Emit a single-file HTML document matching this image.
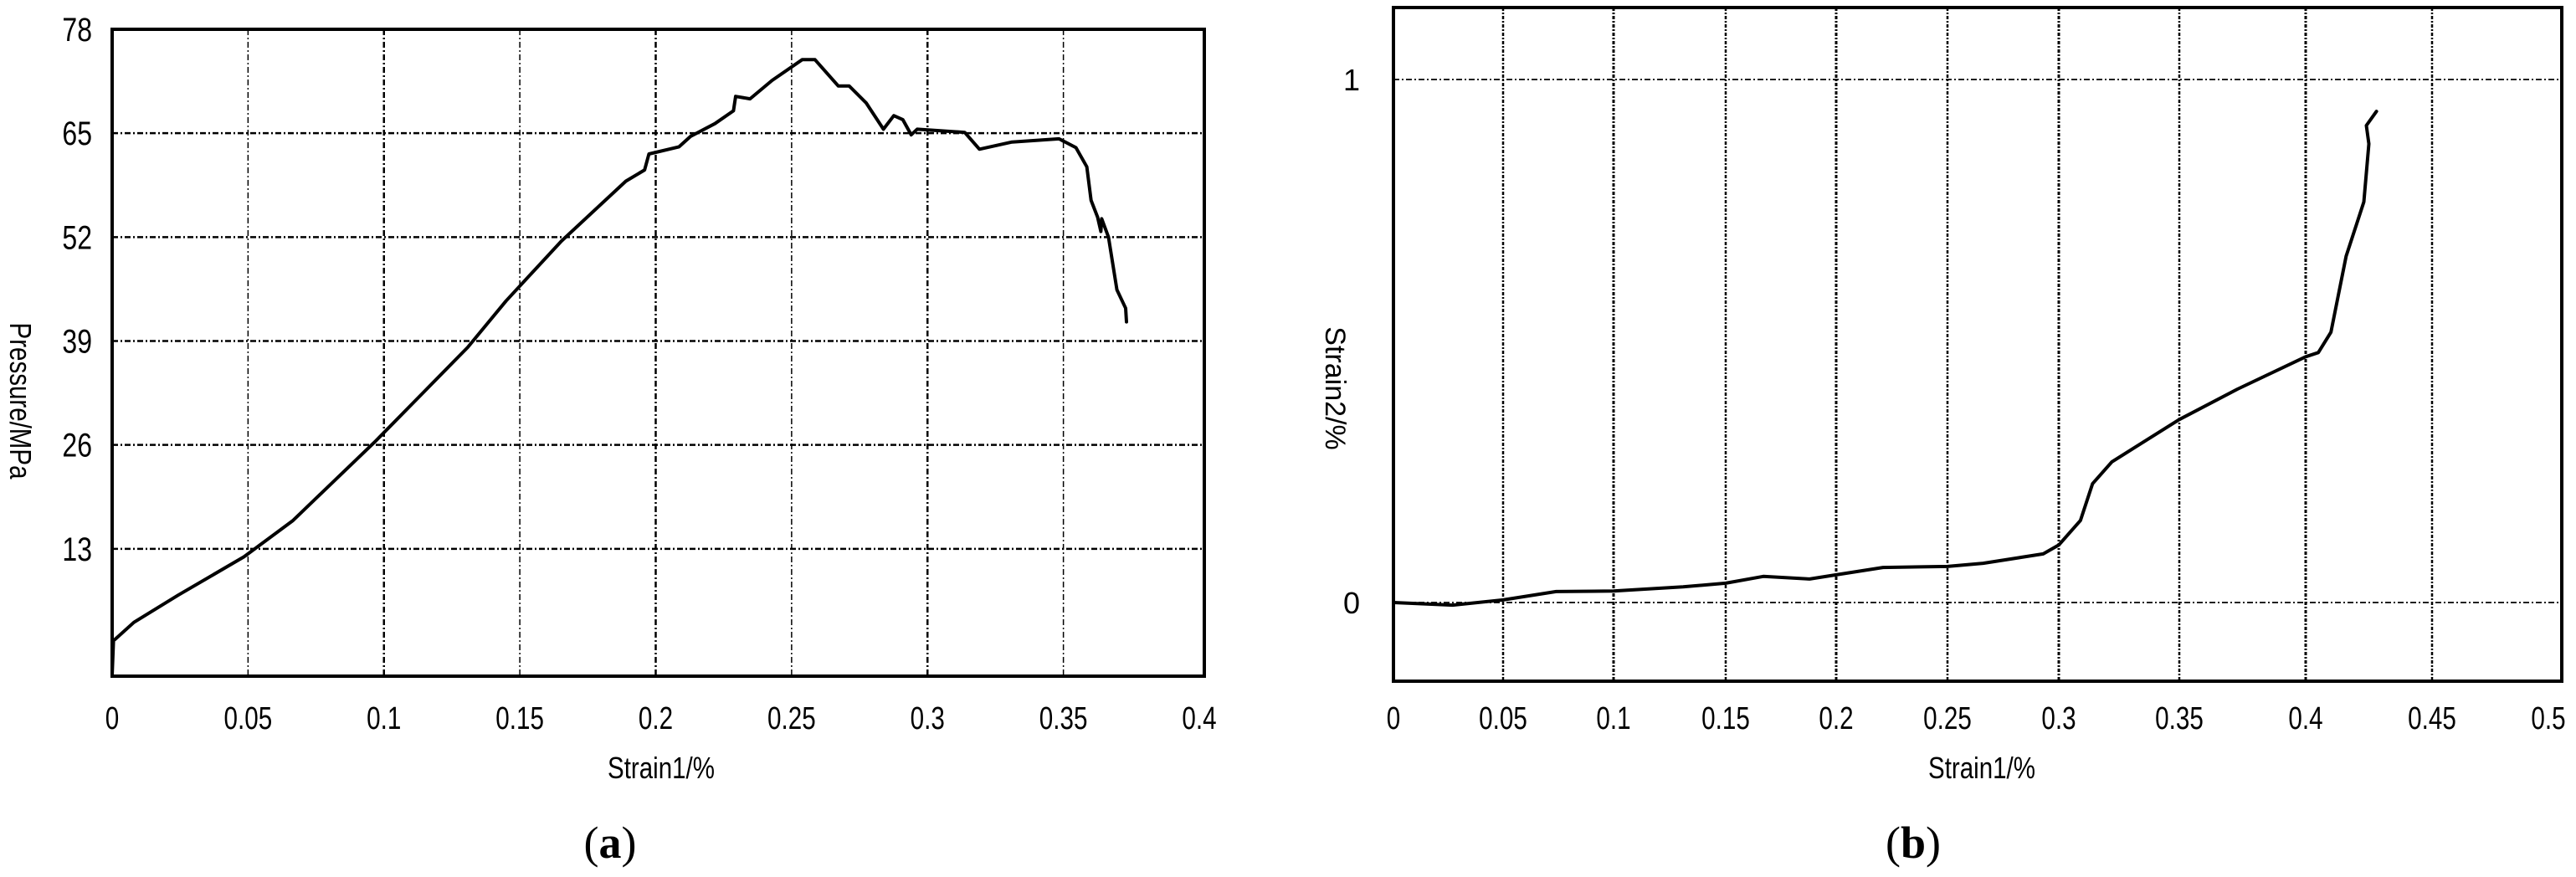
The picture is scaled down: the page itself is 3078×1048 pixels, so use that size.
<!DOCTYPE html>
<html><head><meta charset="utf-8"><style>
html,body{margin:0;padding:0;background:#fff;}
svg{display:block;}
</style></head><body>
<svg id="fig" width="3078" height="1048" viewBox="0 0 3078 1048" xmlns="http://www.w3.org/2000/svg" font-family="Liberation Sans, Arial, sans-serif">
<rect x="0" y="0" width="3078" height="1048" fill="#fff"/>
<g id="pa"></g>
<g id="pb"></g>
<text x="729" y="1025" font-family="Liberation Serif, serif" font-size="54" text-anchor="middle">(<tspan font-weight="bold">a</tspan>)</text>
<text x="2286" y="1025" font-family="Liberation Serif, serif" font-size="54" text-anchor="middle">(<tspan font-weight="bold">b</tspan>)</text>
</svg>
<script>
// Panel (a) data
const aStrain = [0,0.0005,0.008,0.0243,0.0485,0.0664,0.097,0.1308,0.1449,0.1653,0.189,0.1959,0.1975,0.2086,0.2128,0.2218,0.2286,0.2294,0.2347,0.2428,0.2539,0.2586,0.2672,0.2712,0.2774,0.2838,0.2876,0.2909,0.294,0.2962,0.3137,0.3191,0.3311,0.3484,0.3546,0.3586,0.3602,0.3626,0.3638,0.3641,0.3666,0.3697,0.3729,0.3732];
const aPressure = [-2.8,1.5,3.8,7.2,12.0,16.5,26.5,38.2,44,51.5,59,60.4,62.4,63.3,64.6,66.2,67.8,69.6,69.3,71.6,74.2,74.2,70.9,70.9,68.8,65.5,67.2,66.7,64.8,65.5,65.1,63.0,63.9,64.3,63.2,60.8,56.6,54.5,52.7,54.3,52,45.4,43.1,41.4];
const aXTicks = [0,0.05,0.1,0.15,0.2,0.25,0.3,0.35,0.4];
const aXTickLabels = ["0","0.05","0.1","0.15","0.2","0.25","0.3","0.35","0.4"];
const aYTicks = [13,26,39,52,65,78];
const aYTickLabels = ["13","26","39","52","65","78"];
// Panel (b) data
const bStrain1 = [0,0.027,0.05,0.074,0.1,0.131,0.15,0.167,0.188,0.2,0.221,0.25,0.266,0.293,0.3,0.309,0.314,0.322,0.332,0.35,0.373,0.4,0.405,0.41,0.416,0.423,0.425,0.424,0.428];
const bStrain2 = [0,-0.005,0.005,0.021,0.022,0.03,0.037,0.05,0.045,0.053,0.067,0.069,0.075,0.093,0.11,0.157,0.227,0.269,0.298,0.35,0.408,0.47,0.478,0.517,0.662,0.766,0.877,0.912,0.939];
const bXTicks = [0,0.05,0.1,0.15,0.2,0.25,0.3,0.35,0.4,0.45,0.5];
const bXTickLabels = ["0","0.05","0.1","0.15","0.2","0.25","0.3","0.35","0.4","0.45","0.5"];
const bYTicks = [0,1];
const bYTickLabels = ["0","1"];

const NS="http://www.w3.org/2000/svg";
function mk(parent,tag,attrs,text){const e=document.createElementNS(NS,tag);for(const k in attrs)e.setAttribute(k,attrs[k]);if(text!==undefined)e.textContent=text;parent.appendChild(e);return e;}
function piecewise(dom,rng){return v=>{let i=0;while(i<dom.length-2&&v>dom[i+1])i++;const t=(v-dom[i])/(dom[i+1]-dom[i]);return rng[i]+t*(rng[i+1]-rng[i]);};}
function linear(d0,d1,r0,r1){return v=>r0+(v-d0)/(d1-d0)*(r1-r0);}

// ---- Panel a axes
const aL=134,aR=1439,aT=35,aB=808;
const ax=linear(0,0.4,aL,1433);
const ay=linear(0,78,780,aT);
(function(){
 const g=document.getElementById('pa');
 aXTicks.forEach((v,i)=>{const x=ax(v);
  if(i>0&&i<aXTicks.length-1){const l=mk(g,'line',{x1:x,y1:aT,x2:x,y2:aB,stroke:'#000','stroke-width':i%2?1.5:2.5,'stroke-dasharray':'7,3,2,3'});
  
  }
  const t=mk(g,'text',{x:0,y:0,'font-size':38,'text-anchor':'middle',transform:`translate(${x},871) scale(0.78,1)`},aXTickLabels[i]);
  
  
 });
 aYTicks.forEach((v,i)=>{const y=ay(v);
  if(v<78){const l=mk(g,'line',{x1:aL,y1:y,x2:aR,y2:y,stroke:'#000','stroke-width':2.5,'stroke-dasharray':'7,3,2,3'});
  
  }
  const t=mk(g,'text',{x:0,y:0,'font-size':40,'text-anchor':'end',transform:`translate(110,${y+14}) scale(0.8,1)`},aYTickLabels[i]);
  
  
 });
 const f=mk(g,'rect',{x:aL,y:aT,width:aR-aL,height:aB-aT,fill:'none',stroke:'#000','stroke-width':4});
 
 
 const p=mk(g,'polyline',{points:aStrain.map((v,i)=>ax(v).toFixed(1)+','+ay(aPressure[i]).toFixed(1)).join(' '),fill:'none',stroke:'#000','stroke-width':4,'stroke-linejoin':'round','stroke-linecap':'round'});
 
 
 const xt=mk(g,'text',{x:0,y:0,'font-size':36,'text-anchor':'middle',transform:'translate(790,930) scale(0.82,1)'},'Strain1/%');
 
 
 const yt=mk(g,'text',{x:0,y:0,'font-size':36,'text-anchor':'middle',transform:'translate(12,479) rotate(90) scale(0.82,1)'},'Pressure/MPa');
 
 
})();

// ---- Panel b axes
const bL=1665,bR=3061,bT=9,bB=814;
const bx=piecewise([0,0.05,0.1,0.15,0.2,0.25,0.3,0.35,0.4,0.45,0.5],[bL,1796,1928,2062,2194,2327,2460,2604,2755,2906,bR]);
const by=linear(0,1,720,95);
(function(){
 const g=document.getElementById('pb');
 bXTicks.forEach((v,i)=>{const x=bx(v);
  if(i>0&&i<bXTicks.length-1){const l=mk(g,'line',{x1:x,y1:bT,x2:x,y2:bB,stroke:'#000','stroke-width':i%2?2.5:3,'stroke-dasharray':'4,2,2,2'});
  
  }
  const t=mk(g,'text',{x:0,y:0,'font-size':38,'text-anchor':'middle',transform:`translate(${Math.min(x,3045)},871) scale(0.78,1)`},bXTickLabels[i]);
  
  
 });
 bYTicks.forEach((v,i)=>{const y=by(v);
  const l=mk(g,'line',{x1:bL,y1:y,x2:bR,y2:y,stroke:'#000','stroke-width':1.8,'stroke-dasharray':'7,3,2,3'});
  
  
  const t=mk(g,'text',{x:1625,y:y+13,'font-size':36,'text-anchor':'end'},bYTickLabels[i]);
  
  
 });
 const f=mk(g,'rect',{x:bL,y:bT,width:bR-bL,height:bB-bT,fill:'none',stroke:'#000','stroke-width':4});
 
 
 const p=mk(g,'polyline',{points:bStrain1.map((v,i)=>bx(v).toFixed(1)+','+by(bStrain2[i]).toFixed(1)).join(' '),fill:'none',stroke:'#000','stroke-width':4,'stroke-linejoin':'round','stroke-linecap':'round'});
 
 
 const xt=mk(g,'text',{x:0,y:0,'font-size':36,'text-anchor':'middle',transform:'translate(2368,930) scale(0.82,1)'},'Strain1/%');
 
 
 const yt=mk(g,'text',{x:0,y:0,'font-size':34,'text-anchor':'middle',transform:'translate(1584,464) rotate(90)'},'Strain2/%');
 
 
})();
</script>
</body></html>
